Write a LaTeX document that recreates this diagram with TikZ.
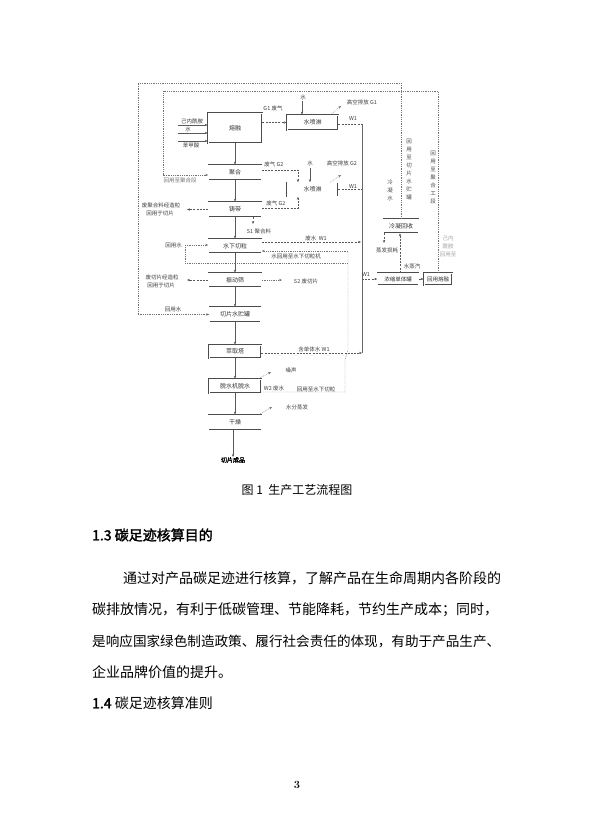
\documentclass[tikz,border=0pt]{standalone}
\usepackage{fontspec}
\usetikzlibrary{arrows.meta,calc}
\newfontfamily\cjk{Noto Sans CJK SC}
\newfontfamily\cjkb[FakeBold=2]{Noto Sans CJK SC}
\begin{document}
\begin{tikzpicture}[x=1pt,y=-1pt,
 box/.style={draw=black!70, line width=0.6pt, double=white, double distance=0.6pt, fill=white, inner sep=0,
   font=\cjk\fontsize{6}{6.5}\selectfont, text=black!80},
 lbl/.style={inner sep=0, font=\cjk\fontsize{5.5}{6}\selectfont, text=black!75},
 vtxt/.style={inner sep=0, align=center, font=\cjk\fontsize{5.5}{8}\selectfont, text=black!70},
 tipx/.style={-{Stealth[length=3pt,width=2.4pt]}},
 flow/.style={draw=black!65, line width=0.4pt, tipx},
 dsh/.style={draw=black!65, line width=0.4pt, dash pattern=on 2pt off 1.2pt},
 dtt/.style={draw=black!55, line width=0.4pt, dash pattern=on 0.8pt off 1pt},
 body/.style={anchor=west, inner sep=0, font=\cjk\fontsize{14}{14}\selectfont}
]
\useasboundingbox[fill=white] (0,0) rectangle (593,838);

% ---------- main column ----------
\node[box, minimum width=54pt, minimum height=30pt] (melt) at (235,128) {熔融};
\node[box, minimum width=53pt, minimum height=15pt] (poly) at (235,172.5) {聚合};
\node[box, minimum width=53pt, minimum height=15pt] (cast) at (235,209.5) {铸带};
\node[box, minimum width=53pt, minimum height=14pt] (cut) at (235,246) {水下切粒};
\node[box, minimum width=53pt, minimum height=14pt] (sieve) at (235,280) {振动筛};
\node[box, minimum width=51pt, minimum height=15pt] (tank) at (235,314.5) {切片水贮罐};
\node[box, minimum width=52pt, minimum height=13pt] (extr) at (235,351.5) {萃取塔};
\node[box, minimum width=52pt, minimum height=14pt] (dewater) at (235,386) {脱水机脱水};
\node[box, minimum width=53pt, minimum height=15pt] (dry) at (235,422.5) {干燥};
\node[inner sep=0, font=\cjkb\fontsize{6}{7}\selectfont] (prod) at (233,460) {切片成品};

\draw[flow] (melt) -- (poly);
\draw[flow] (poly) -- (cast);
\draw[flow] (cast) -- (cut);
\draw[flow] (cut) -- (sieve);
\draw[flow] (sieve) -- (tank);
\draw[flow] (tank) -- (extr);
\draw[flow] (extr) -- (dewater);
\draw[flow] (dewater) -- (dry);
\draw[flow] (dry.south -| prod) -- (prod);

% inputs
\coordinate (inA) at (178,125);
\coordinate (inB) at (178,133);
\coordinate (inC) at (178,141);
\draw[flow] (inA) -- (inA -| melt.west);
\draw[flow] (inB) -- (inB -| melt.west);
\draw[flow] (inC) -- (inC -| melt.west);
\node[lbl] at (192,121) {己内酰胺};
\node[lbl] at (188,129.5) {水};
\node[lbl] at (191,145.5) {苯甲酸};

% ---------- spray 1 ----------
\node[box, minimum width=51pt, minimum height=15pt] (spray1) at (312.5,122.5) {水喷淋};
\coordinate (vtop) at (362,124);
\coordinate (vbot) at (362,353);
\draw[dsh, tipx] (melt.east |- spray1.west) -- (spray1.west);
\node[lbl] at (273,108) {G1 废气};
\coordinate (w1top) at (302,101);
\draw[flow] (w1top) -- (w1top |- spray1.north);
\node[lbl] at (303,97) {水};
\coordinate (g1e) at (341,106);
\draw[dtt, tipx] ([xshift=-8pt]spray1.north east) -- (g1e);
\node[lbl] at (362,102.5) {高空排放 G1};
\draw[dsh] (spray1.east |- vtop) -- (vtop);
\node[lbl] at (353,118) {W1};
\draw[draw=black!60, line width=0.4pt] (vtop) -- (vbot);

% ---------- spray 2 ----------
\node[box, minimum width=51pt, minimum height=14pt] (spray2) at (312.5,189.5) {水喷淋};
\coordinate (pg) at (298,170);
\draw[dsh, tipx] (poly.east |- pg) -- (pg) -- (pg |- spray2.north);
\node[lbl] at (274,164) {废气 G2};
\coordinate (w2top) at (310,168);
\draw[flow] (w2top) -- (w2top |- spray2.north);
\node[lbl] at (310,163) {水};
\coordinate (g2e) at (341,175);
\draw[dtt, tipx] ([xshift=-8pt]spray2.north east) -- (g2e);
\node[lbl] at (342,163) {高空排放 G2};
\draw[dsh] (spray2.east) -- (spray2.east -| vtop);
\node[lbl] at (353,186) {W1};
\coordinate (cg) at (298,208);
\draw[dsh, tipx] (cast.east |- cg) -- (cg) -- (cg |- spray2.south);
\node[lbl] at (276,203) {废气 G2};

% ---------- cast ----------
\coordinate (lx) at (187,0);
\draw[dsh, tipx] (cast.west) -- (cast.west -| lx);
\node[lbl] at (161,205) {废聚合料经造粒};
\node[lbl] at (160,213) {回用于切片};
\coordinate (s1) at (253,224);
\draw[dsh, tipx] (cast.south -| s1) -- (s1);
\node[lbl] at (259,231) {S1 聚合料};

% ---------- underwater cutting ----------
\coordinate (cw) at (361,242);
\draw[dsh, tipx] (cut.east |- cw) -- (cw);
\node[lbl] at (316,238) {废水 \ W1};
\coordinate (rw) at (185,245);
\coordinate (rwb) at (185,263);
\coordinate (rx) at (348,263);
\coordinate (ru) at (348,251);
\coordinate (r1) at (348,350);
\coordinate (r2) at (345,360);
\coordinate (r3) at (345,392);
\node[lbl, anchor=east] at (182,245) {回用水};
\draw[dtt, tipx] (rw) -- (cut.west |- rw);
\draw[dtt] (rw) -- (rwb) -- (rx);
\draw[dtt, tipx] (ru) -- (cut.east |- ru);
\node[lbl] at (296,256.5) {水回用至水下切粒机};
\draw[dtt] (dewater.east |- r3) -- (r3) -- (r2) -- (r1) -- (ru);

% ---------- sieve ----------
\draw[dsh, tipx] (sieve.west) -- (sieve.west -| lx);
\node[lbl] at (162,277) {废切片经造粒};
\node[lbl] at (161,285) {回用于切片};
\coordinate (s2) at (282,280);
\draw[dtt, tipx] (sieve.east) -- (s2);
\node[lbl] at (306,281) {S2 废切片};

% ---------- extraction ----------
\draw[dsh, tipx] (extr.east |- vbot) -- (vbot);
\node[lbl] at (314,349) {含单体水 W1};

% ---------- dewatering / drying ----------
\coordinate (nz) at (271,372);
\draw[dtt, tipx] ([xshift=-3pt]dewater.north east) -- (nz);
\node[lbl] at (291,370) {噪声};
\node[lbl] at (274,388.5) {W2 废水};
\node[lbl] at (316,389) {回用至水下切粒};
\coordinate (ev2) at (272,407);
\draw[dtt, tipx] ([xshift=-3pt]dry.north east) -- (ev2);
\node[lbl] at (297,407) {水分蒸发};

% ---------- right cluster ----------
\node[box, minimum width=35pt, minimum height=14pt] (cond) at (401,226) {冷凝回收};
\node[box, minimum width=41pt, minimum height=12pt, font=\cjk\fontsize{5.5}{6}\selectfont] (mono) at (398,279) {浓缩单体罐};
\node[box, minimum width=28pt, minimum height=12pt, font=\cjk\fontsize{5.5}{6}\selectfont] (remelt) at (438,279) {回用熔融};
\draw[dsh, tipx] (mono.west -| vtop) -- (mono.west);
\node[lbl] at (366,274) {W1};
\draw[dsh, tipx] (mono) -- (remelt);
\coordinate (vs) at (400,0);
\draw[dsh, tipx] (mono.north -| vs) -- (cond.south -| vs);
\node[lbl] at (412,266) {水蒸汽};
\coordinate (ev) at (384,243);
\draw[dsh, tipx] (cond.south -| ev) -- (ev);
\node[lbl] at (387,250.5) {蒸发损耗};

% recycle loops
\coordinate (o1) at (138,83);
\draw[dtt, tipx] (cond.north) -- (cond.north |- o1) -- (o1) -- (o1 |- tank) -- (tank.west);
\node[lbl] at (173,309) {回用水};
\coordinate (i1) at (163,91);
\coordinate (ip) at (163,175);
\draw[dtt, tipx] (remelt.north) -- (remelt.north |- i1) -- (i1) -- (ip) -- (poly.west |- ip);
\node[lbl, text=black!55] at (180,180) {回用至聚合段};
\node[vtxt] at (390,190) {冷\\凝\\水};
\node[vtxt] at (409,170) {回\\用\\至\\切\\片\\水\\贮\\罐};
\node[vtxt] at (433,178) {回\\用\\至\\聚\\合\\工\\段};
\node[vtxt, text=black!35] at (448,246) {己内\\酰胺\\回用至};

% ---------- page text ----------
\node[inner sep=0, font=\cjk\fontsize{12}{12}\selectfont] (cap) at (297,490) {图 1 \ 生产工艺流程图};
\node[anchor=west, inner sep=0, font=\cjkb\fontsize{14}{14}\selectfont] (h13) at (92,535) {1.3 碳足迹核算目的};
\node[body] (p1) at (123,578) {通过对产品碳足迹进行核算，了解产品在生命周期内各阶段的};
\node[body] (p2) at (92,610) {碳排放情况，有利于低碳管理、节能降耗，节约生产成本；同时，};
\node[body, font=\cjk\fontsize{13.6}{14}\selectfont] (p3) at (92,641) {是响应国家绿色制造政策、履行社会责任的体现，有助于产品生产、};
\node[body] (p4) at (92,672) {企业品牌价值的提升。};
\node[anchor=west, inner sep=0, font=\cjk\fontsize{14}{14}\selectfont] (h14) at (92,703) {{\cjkb 1.4} 碳足迹核算准则};
\node[inner sep=0, font=\bfseries\fontsize{11}{11}\selectfont] (pg3) at (297,785) {3};
\end{tikzpicture}
\end{document}
